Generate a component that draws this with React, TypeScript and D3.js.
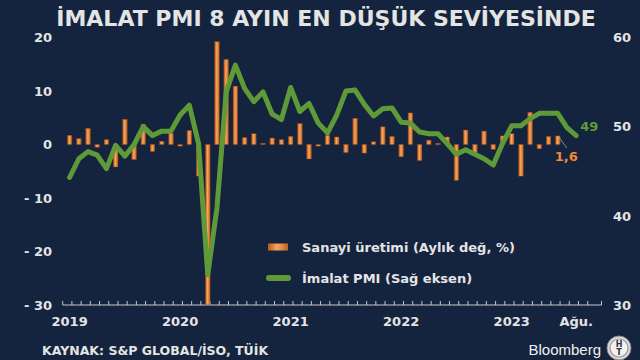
import React, { useEffect, useRef } from 'react';
import * as d3 from 'd3';

// Sanayi üretimi, aylık değişim % (Oca 2019 - Haz 2023)
const ipValues = [
  1.7, 1.1, 3.0, -0.5, 0.9, -4.2, 4.7, -2.8, 3.8, -1.3, 0.6, 2.1,
  -0.3, 2.6, -5.9, -30.0, 19.2, 15.9, 10.9, 1.3, 2.0, 0.2, 1.2, 0.9,
  1.5, 3.9, -2.7, -0.3, 1.7, 1.4, -1.5, 4.9, -1.6, 0.5, 3.3, 1.5,
  -2.3, 5.9, -3.0, 0.8, 0.2, 1.4, -6.7, 2.7, -1.5, 2.5, -0.9, 1.6,
  2.0, -5.9, 6.0, -0.8, 1.5, 1.6,
];

// İmalat PMI (Oca 2019 - Ağu 2023)
const pmiValues = [
  44.3, 46.4, 47.2, 46.8, 45.3, 47.9, 46.7, 48.0, 50.0, 49.0, 49.5, 49.5,
  51.3, 52.4, 48.1, 33.4, 40.9, 53.9, 56.9, 54.3, 52.8, 53.9, 51.4, 50.8,
  54.4, 51.7, 52.6, 50.4, 49.3, 51.3, 54.0, 54.1, 52.5, 51.2, 52.0, 52.1,
  50.5, 50.4, 49.4, 49.2, 49.2, 48.1, 46.9, 47.4, 46.9, 46.4, 45.7, 48.1,
  50.1, 50.1, 50.9, 51.5, 51.5, 51.5, 49.9, 49.0,
];

const leftTicks = [20, 10, 0, -10, -20, -30];
const rightTicks = [60, 50, 40, 30];
const xLabels = [
  { month: '2019-01', text: '2019' },
  { month: '2020-01', text: '2020' },
  { month: '2021-01', text: '2021' },
  { month: '2022-01', text: '2022' },
  { month: '2023-01', text: '2023' },
  { month: '2023-08', text: 'Ağu.' },
];

const title = 'İMALAT PMI 8 AYIN EN DÜŞÜK SEVİYESİNDE';
const legendBars = 'Sanayi üretimi (Aylık değ, %)';
const legendLine = 'İmalat PMI (Sağ eksen)';
const source = 'KAYNAK: S&P GLOBAL/İSO, TÜİK';

const BG = '#14243f';
const TEXT = '#e4e4e4';
const ORANGE = '#ef8a3a';
const GREEN = '#5f9a38';
const FONT = "'DejaVu Sans', Verdana, sans-serif";

const fmt = d3.timeFormat('%Y-%m');

export default function App() {
  const ref = useRef<SVGSVGElement>(null);

  useEffect(() => {
    document.body.style.margin = '0';
    const svg = d3.select(ref.current);
    svg.selectAll('*').remove();

    const months = d3.timeMonth.range(new Date(2019, 0, 1), new Date(2023, 10, 1)).map(fmt);

    const x = d3.scaleBand().domain(months).range([62.7, 601.5]).padding(0.5);
    const yL = d3.scaleLinear().domain([-30, 20]).range([305, 37.5]);
    const yR = d3.scaleLinear().domain([30, 60]).range([305, 37.5]);
    const cx = (m: string) => (x(m) as number) + x.bandwidth() / 2;

    const defs = svg.append('defs');
    const grad = defs.append('linearGradient').attr('id', 'barGrad')
      .attr('x1', '0').attr('x2', '1').attr('y1', '0').attr('y2', '0');
    grad.append('stop').attr('offset', '0').attr('stop-color', '#b8581a');
    grad.append('stop').attr('offset', '0.45').attr('stop-color', '#f8a660');
    grad.append('stop').attr('offset', '1').attr('stop-color', '#c2621f');

    svg.append('rect').attr('width', 640).attr('height', 360).attr('fill', BG);

    svg.append('text')
      .attr('x', 326).attr('y', 26)
      .attr('text-anchor', 'middle')
      .attr('font-family', FONT).attr('font-weight', 'bold').attr('font-size', 22)
      .attr('fill', TEXT)
      .text(title);

    // sol eksen
    svg.append('g').selectAll('text').data(leftTicks).enter().append('text')
      .attr('x', 52).attr('y', (d) => yL(d)).attr('dy', '0.36em')
      .attr('text-anchor', 'end')
      .attr('font-family', FONT).attr('font-weight', 'bold').attr('font-size', 13)
      .attr('fill', TEXT)
      .text((d) => (d < 0 ? '- ' + Math.abs(d) : String(d)));

    // sağ eksen
    svg.append('g').selectAll('text').data(rightTicks).enter().append('text')
      .attr('x', 613).attr('y', (d) => yR(d)).attr('dy', '0.36em')
      .attr('font-family', FONT).attr('font-weight', 'bold').attr('font-size', 13)
      .attr('fill', TEXT)
      .text((d) => String(d));

    // x ekseni
    const axis = svg.append('g').attr('transform', 'translate(0,305)');
    axis.append('line').attr('x1', 62.7).attr('x2', 601.5).attr('stroke', '#c8c8c8').attr('stroke-width', 1);
    axis.selectAll('.tick').data(months.concat(['end'])).enter().append('line')
      .attr('x1', (d) => (d === 'end' ? 601.5 : (x(d) as number) - x.step() * x.paddingOuter()))
      .attr('x2', (d) => (d === 'end' ? 601.5 : (x(d) as number) - x.step() * x.paddingOuter()))
      .attr('y1', 0).attr('y2', -4)
      .attr('stroke', '#c8c8c8').attr('stroke-width', 1);
    axis.selectAll('.lbl').data(xLabels).enter().append('text')
      .attr('x', (d) => cx(d.month)).attr('y', 21)
      .attr('text-anchor', 'middle')
      .attr('font-family', FONT).attr('font-weight', 'bold').attr('font-size', 13)
      .attr('fill', TEXT)
      .text((d) => d.text);

    // çubuklar
    svg.append('g').selectAll('rect').data(ipValues).enter().append('rect')
      .attr('x', (_, i) => x(months[i]) as number)
      .attr('width', x.bandwidth())
      .attr('y', (d) => yL(Math.max(0, d)))
      .attr('height', (d) => Math.max(0.8, Math.abs(yL(d) - yL(0))))
      .attr('fill', 'url(#barGrad)')
      .attr('stroke', '#a24c14').attr('stroke-width', 0.4);

    // PMI çizgisi
    const line = d3.line<number>()
      .x((_, i) => cx(months[i]))
      .y((d) => yR(d));
    svg.append('path').datum(pmiValues)
      .attr('d', line)
      .attr('fill', 'none')
      .attr('stroke', GREEN).attr('stroke-width', 5)
      .attr('stroke-linejoin', 'round').attr('stroke-linecap', 'round');

    // son değer etiketleri
    const lastPmi = pmiValues.length - 1;
    svg.append('text')
      .attr('x', cx(months[lastPmi]) + 4).attr('y', yR(pmiValues[lastPmi]) - 9).attr('dy', '0.36em')
      .attr('font-family', FONT).attr('font-weight', 'bold').attr('font-size', 13)
      .attr('fill', GREEN)
      .text(String(pmiValues[lastPmi]).replace('.', ','));

    const lastIp = ipValues.length - 1;
    const bx = cx(months[lastIp]);
    const by = yL(ipValues[lastIp]);
    svg.append('line')
      .attr('x1', bx + 1).attr('y1', by + 1).attr('x2', bx + 9).attr('y2', by + 12)
      .attr('stroke', '#9aa3b0').attr('stroke-width', 0.8);
    svg.append('text')
      .attr('x', bx - 3).attr('y', by + 20).attr('dy', '0.36em')
      .attr('font-family', FONT).attr('font-weight', 'bold').attr('font-size', 13)
      .attr('fill', ORANGE)
      .text(String(ipValues[lastIp]).replace('.', ','));

    // lejant
    const lg = svg.append('g');
    lg.append('rect').attr('x', 268).attr('y', 243.5).attr('width', 20).attr('height', 7)
      .attr('fill', 'url(#barGrad)');
    lg.append('text').attr('x', 302).attr('y', 247).attr('dy', '0.36em')
      .attr('font-family', FONT).attr('font-weight', 'bold').attr('font-size', 13)
      .attr('fill', TEXT).text(legendBars);
    lg.append('line').attr('x1', 269).attr('x2', 288).attr('y1', 278).attr('y2', 278)
      .attr('stroke', GREEN).attr('stroke-width', 6).attr('stroke-linecap', 'round');
    lg.append('text').attr('x', 302).attr('y', 278).attr('dy', '0.36em')
      .attr('font-family', FONT).attr('font-weight', 'bold').attr('font-size', 13)
      .attr('fill', TEXT).text(legendLine);

    // kaynak ve logo
    svg.append('text').attr('x', 42).attr('y', 355)
      .attr('font-family', FONT)
      .attr('font-weight', 'bold').attr('font-size', 12.5)
      .attr('fill', TEXT).text(source);
    svg.append('text').attr('x', 601).attr('y', 355)
      .attr('text-anchor', 'end')
      .attr('font-family', "'Liberation Sans', Arial, sans-serif").attr('font-size', 15)
      .attr('fill', '#f0f0f0').text('Bloomberg');
    const logo = svg.append('g').attr('transform', 'translate(619,348)');
    logo.append('circle').attr('r', 12).attr('fill', '#d8d8d8').attr('stroke', '#8a8a8a').attr('stroke-width', 1);
    logo.append('circle').attr('r', 9).attr('fill', '#f2f2f2').attr('stroke', '#9a9a9a').attr('stroke-width', 1.2);
    logo.append('text').attr('y', -1).attr('text-anchor', 'middle')
      .attr('font-family', FONT).attr('font-weight', 'bold').attr('font-size', 8)
      .attr('fill', '#333').text('H');
    logo.append('text').attr('y', 7).attr('text-anchor', 'middle')
      .attr('font-family', FONT).attr('font-weight', 'bold').attr('font-size', 8)
      .attr('fill', '#333').text('T');
  }, []);

  return <svg ref={ref} width={640} height={360} style={{ display: 'block' }} />;
}
